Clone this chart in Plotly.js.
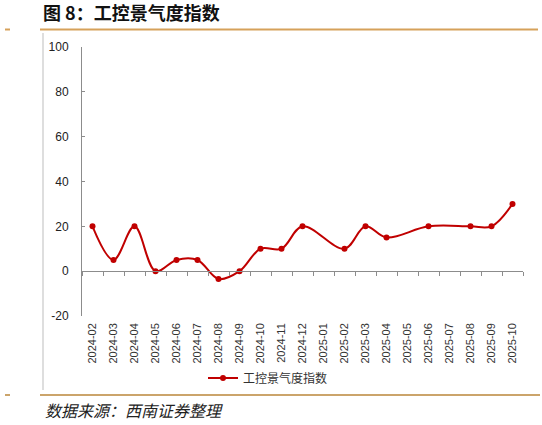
<!DOCTYPE html>
<html>
<head>
<meta charset="utf-8">
<script src="https://cdn.plot.ly/plotly-3.0.1.min.js"></script>
<style>html,body{margin:0;padding:0;background:#fff;}#chart{width:542px;height:425px;}</style>
</head>
<body>
<div id="chart"></div>
<script>
var months = ["2024-02","2024-03","2024-04","2024-05","2024-06","2024-07","2024-08","2024-09","2024-10","2024-11","2024-12","2025-01","2025-02","2025-03","2025-04","2025-05","2025-06","2025-07","2025-08","2025-09","2025-10"];
var indexValues = [20, 5, 20, 0, 5, 5, -3.5, 0, 10, 10, 20, null, 10, 20, 15, null, 20, null, 20, 20, 30];
var seriesName = "工控景气度指数";
var yTicks = [-20, 0, 20, 40, 60, 80, 100];

var W = 542, H = 425;
var L = 82, R = 19, T = 47, B = 109;
var pw = W - L - R, ph = H - T - B;
function fx(px){ return (px - L) / pw; }
function fy(py){ return (H - B - py) / ph; }

var traces = [
  {
    x: months, y: indexValues, name: seriesName, type: 'scatter', mode: 'lines+markers',
    connectgaps: true,
    line: {color: '#C00000', width: 2, shape: 'spline', smoothing: 1},
    marker: {color: '#C00000', size: 6},
    xaxis: 'x', yaxis: 'y', hoverinfo: 'skip'
  },
  {
    x: months, y: indexValues, type: 'scatter', mode: 'lines', opacity: 0,
    line: {width: 0}, showlegend: false, xaxis: 'x2', yaxis: 'y', hoverinfo: 'skip'
  }
];

var gray = '#8c8c8c';
var layout = {
  width: W, height: H,
  margin: {l: L, r: R, t: T, b: B, pad: 0},
  paper_bgcolor: '#fff', plot_bgcolor: '#fff',
  font: {family: 'Liberation Sans, Arial, sans-serif', color: '#333'},
  title: {
    text: '<b>图 8：工控景气度指数</b>',
    font: {family: 'Noto Sans CJK SC, sans-serif', size: 18, color: '#111'},
    xref: 'container', yref: 'container',
    x: 43 / W, xanchor: 'left', y: 1 - 14 / H, yanchor: 'middle'
  },
  xaxis: {
    type: 'category', categoryarray: months, categoryorder: 'array',
    range: [-0.5, months.length - 0.5],
    showline: false, showgrid: false, zeroline: false, ticks: '',
    tickangle: -90, tickfont: {size: 11, color: '#333'},
    ticklabelstandoff: 4
  },
  xaxis2: {
    type: 'category', overlaying: 'x', anchor: 'free', position: 20 / 120,
    range: [-0.5, months.length - 0.5],
    showline: true, linecolor: gray, linewidth: 1,
    ticks: 'outside', tickson: 'boundaries', ticklen: 4, tickcolor: gray, tickwidth: 1,
    showticklabels: false, showgrid: false, zeroline: false
  },
  yaxis: {
    range: [-20, 100], tickvals: yTicks, ticktext: yTicks.map(String),
    showline: true, linecolor: gray, linewidth: 1,
    ticks: 'inside', ticklen: 3, tickcolor: gray,
    showgrid: false, zeroline: false,
    tickfont: {size: 12, color: '#222'},
    ticklabelstandoff: 10
  },
  showlegend: true,
  legend: {
    orientation: 'h', x: fx(203), xanchor: 'left', y: fy(378), yanchor: 'middle',
    font: {family: 'Noto Sans CJK SC, sans-serif', size: 12, color: '#333'},
    bgcolor: 'rgba(0,0,0,0)', itemwidth: 30
  },
  annotations: [
    {
      xref: 'paper', yref: 'paper', x: fx(43), y: fy(410), xanchor: 'left', yanchor: 'middle',
      text: '<i>数据来源：西南证券整理</i>', showarrow: false,
      font: {family: 'Noto Sans CJK SC, sans-serif', size: 16, color: '#222'}
    }
  ],
  shapes: [
    {type: 'line', xref: 'paper', yref: 'paper', x0: fx(40), x1: fx(538), y0: fy(29.5), y1: fy(29.5), line: {color: '#D6A15A', width: 2}},
    {type: 'line', xref: 'paper', yref: 'paper', x0: fx(5), x1: fx(10), y0: fy(29.5), y1: fy(29.5), line: {color: '#D6A15A', width: 2}},
    {type: 'line', xref: 'paper', yref: 'paper', x0: fx(40), x1: fx(540), y0: fy(395), y1: fy(395), line: {color: '#CBA46B', width: 2}},
    {type: 'line', xref: 'paper', yref: 'paper', x0: fx(5), x1: fx(10), y0: fy(395), y1: fy(395), line: {color: '#CBA46B', width: 2}},
    {type: 'line', xref: 'paper', yref: 'paper', x0: fx(43), x1: fx(43), y0: fy(33), y1: fy(390), line: {color: '#BDBDBD', width: 1}}
  ]
};

Plotly.newPlot('chart', traces, layout, {staticPlot: true, displayModeBar: false});
</script>
</body>
</html>
